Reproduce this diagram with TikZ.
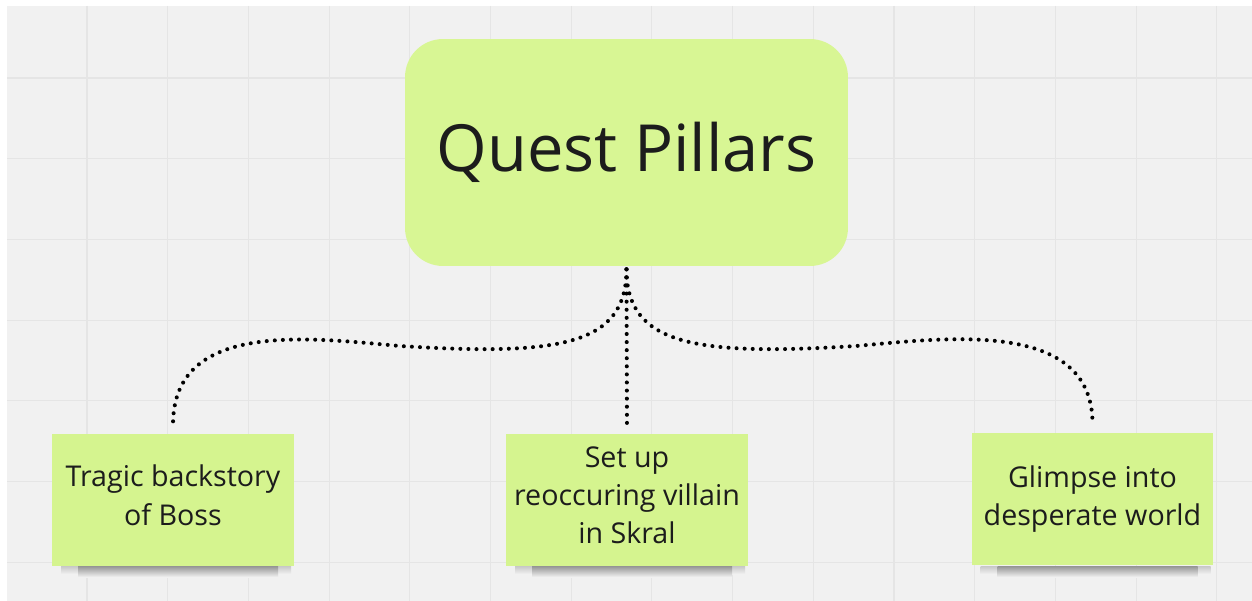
\documentclass[tikz,border=0pt]{standalone}
\usepackage{fontspec}
\setmainfont{Open Sans}
\definecolor{board}{HTML}{F1F1F1}
\definecolor{gridline}{HTML}{E5E5E5}
\definecolor{lime}{HTML}{D8F694}
\definecolor{sticky}{HTML}{D5F48F}
\definecolor{ink}{HTML}{1C1C1C}
\tikzset{
  pillarbox/.style={fill=lime, rounded corners=0.76cm, minimum width=8.86cm, minimum height=4.54cm,
    inner sep=0pt, text=ink, font=\fontsize{37}{44}\selectfont},
  stickynote/.style={fill=sticky, minimum width=4.84cm, minimum height=2.64cm, inner sep=0pt,
    align=center, text=ink, font=\fontsize{16.3}{21.8}\selectfont},
  link/.style={line width=2.3pt, line cap=round, dash pattern=on 0pt off 4.6pt,
    shorten <=0.06cm, shorten >=0.18cm},
}
\begin{document}
\begin{tikzpicture}[x=0.02cm,y=-0.02cm]
  \useasboundingbox (0,0) rectangle (1252,601);
  \fill[white] (0,0) rectangle (1252,601);
  \fill[board] (7,6) rectangle (1252,601);
  \foreach \k in {0,...,14} {\draw[gridline,line width=0.6pt] (87+80.7*\k,6) -- (87+80.7*\k,601);}
  \foreach \k in {0,...,6} {\draw[gridline,line width=0.6pt] (7,78+80.7*\k) -- (1252,78+80.7*\k);}

  \node[pillarbox] (pillars) at (626.5,152.5) {Quest Pillars};

  \foreach \n/\x in {tragic/173,villain/627,glimpse/1092.5} {
    \shade[top color=black!22, bottom color=board] (\x-112,566) rectangle (\x+118,574);
    \shade[top color=black!42, bottom color=board] (\x-95,566) rectangle (\x+105,577);
  }
  \node[stickynote] (tragic) at (173,500) {Tragic backstory\\of Boss\\[-0.57cm]\mbox{}};
  \node[stickynote] (villain) at (627,500) {Set up\\reoccuring villain\\in Skral\\[-0.57cm]\mbox{}};
  \node[stickynote] (glimpse) at (1092.5,499) {Glimpse into\\desperate world};

  \coordinate (lbend) at (400,346);
  \coordinate (rbend) at (856,346);
  \draw[link] (pillars.south) .. controls +(0,79) and +(160,10) .. (lbend)
    .. controls +(-90,-8) and +(0,-114) .. (tragic.north);
  \draw[link] (pillars.south) -- (villain.north);
  \draw[link] (pillars.south) .. controls +(0,79) and +(-160,10) .. (rbend)
    .. controls +(90,-8) and +(0,-114) .. (glimpse.north);
\end{tikzpicture}
\end{document}
